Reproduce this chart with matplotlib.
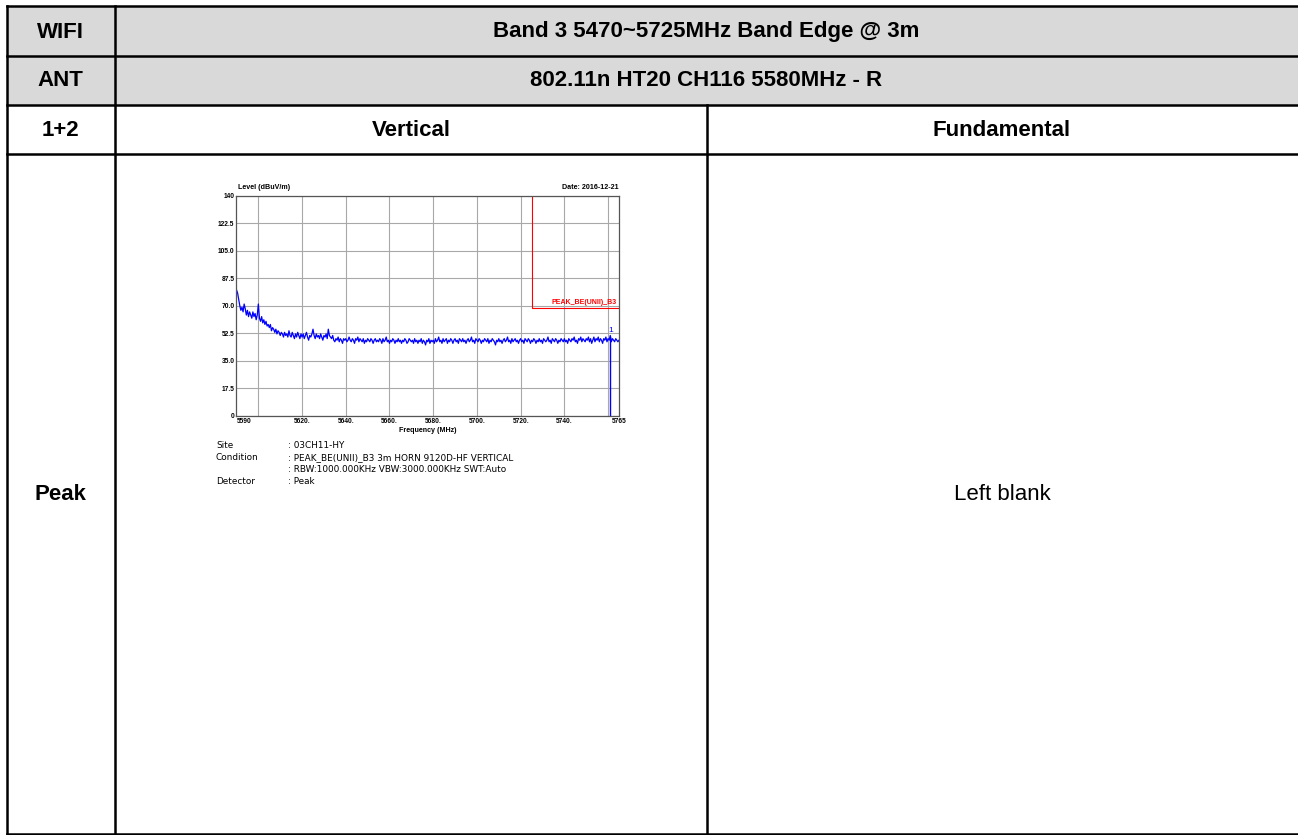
import matplotlib
matplotlib.use("Agg")
import matplotlib.pyplot as plt
import numpy as np

# table texts
row1_left = "WIFI"
row1_text = "Band 3 5470~5725MHz Band Edge @ 3m"
row2_left = "ANT"
row2_text = "802.11n HT20 CH116 5580MHz - R"
row3 = ["1+2", "Vertical", "Fundamental"]
row4 = ["Peak", "Left blank"]

# spectrum trace, one point every 0.5 MHz from 5590 to 5765
level = [80, 78, 74, 70, 67, 69, 66, 71, 68, 64,
         67, 63, 66, 64, 62, 66, 63, 65, 61, 64,
         71, 62, 60, 63, 59, 61, 58, 60, 57, 58,
         56, 58, 54, 56, 55, 53, 55, 52, 54, 53,
         51, 53, 52, 50, 53, 51, 52, 50, 54, 51,
         50, 53, 51, 49, 52, 50, 53, 51, 49, 52,
         50, 52, 49, 51, 53, 50, 48, 51, 50, 52,
         55, 51, 49, 52, 50, 51, 49, 52, 50, 48,
         51, 50, 52, 49, 55, 51, 50, 49, 51, 48,
         47, 49, 48, 50, 47, 49, 48, 46, 49, 48,
         49, 47, 48, 50, 48, 47, 49, 48, 46, 49,
         48, 50, 47, 49, 48, 47, 49, 46, 48, 47,
         49, 48, 47, 49, 48, 46, 48, 49, 47, 48,
         47, 49, 48, 46, 49, 47, 48, 50, 47, 48,
         46, 48, 47, 49, 48, 46, 48, 47, 49, 47,
         48, 46, 48, 47, 49, 48, 46, 47, 49, 48,
         47, 48, 46, 49, 47, 48, 46, 48, 47, 49,
         46, 48, 47, 45, 48, 47, 49, 46, 48, 47,
         48, 46, 49, 47, 48, 50, 47, 48, 46, 49,
         47, 48, 49, 46, 48, 47, 49, 48, 46, 48,
         49, 47, 48, 46, 49, 48, 47, 49, 47, 48,
         46, 48, 49, 47, 48, 50, 47, 48, 46, 49,
         48, 47, 49, 48, 46, 48, 47, 49, 48, 47,
         49, 46, 48, 47, 49, 48, 47, 45, 48, 47,
         49, 47, 48, 46, 48, 49, 47, 48, 50, 47,
         48, 46, 49, 47, 48, 49, 47, 48, 46, 48,
         49, 47, 48, 46, 49, 48, 47, 49, 48, 46,
         48, 47, 49, 48, 46, 48, 47, 49, 47, 48,
         46, 49, 48, 47, 48, 50, 47, 48, 46, 49,
         48, 47, 49, 48, 46, 48, 47, 49, 48, 47,
         49, 47, 48, 46, 49, 48, 47, 49, 48, 50,
         47, 48, 46, 49, 48, 50, 47, 49, 48, 47,
         49, 48, 50, 47, 49, 46, 48, 50, 47, 49,
         48, 50, 47, 49, 48, 46, 49, 48, 50, 47,
         49, 48, 51, 47, 49, 48, 47, 49, 48, 47,
         48]
freq = 5590 + 0.5 * np.arange(len(level))

limit_freq = 5725
limit_level = 68.2
marker_freq = 5761
marker_level = 50

y_ticks = [0, 17.5, 35.0, 52.5, 70.0, 87.5, 105.0, 122.5, 140]
y_labels = ["0", "17.5", "35.0", "52.5", "70.0", "87.5", "105.0", "122.5", "140"]
x_grid = [5600, 5620, 5640, 5660, 5680, 5700, 5720, 5740, 5760]
x_ticks = [5590, 5620, 5640, 5660, 5680, 5700, 5720, 5740, 5765]
x_labels = ["5590", "5620.", "5640.", "5660.", "5680.", "5700.", "5720.", "5740.", "5765"]

info_keys = ["Site", "Condition", "", "Detector"]
info_vals = [": 03CH11-HY",
             ": PEAK_BE(UNII)_B3 3m HORN 9120D-HF VERTICAL",
             ": RBW:1000.000KHz VBW:3000.000KHz SWT:Auto",
             ": Peak"]

W, H = 1298, 835
fig = plt.figure(figsize=(W / 100, H / 100), dpi=100)

# background axes in pixel coordinates for the table
ax0 = fig.add_axes([0, 0, 1, 1])
ax0.set_xlim(0, W)
ax0.set_ylim(H, 0)
ax0.axis("off")

x_l, x_c1, x_c2, x_r = 6.5, 115, 707, 1300
rows = [6, 56, 104.5, 154, 834]
ax0.add_patch(plt.Rectangle((x_l, rows[0]), x_r - x_l, rows[2] - rows[0],
                            facecolor="#d9d9d9", edgecolor="none"))
lw = 1.8
for y in rows:
    ax0.plot([x_l, x_r], [y, y], color="black", lw=lw, solid_capstyle="projecting")
ax0.plot([x_l, x_l], [rows[0], rows[-1]], color="black", lw=lw)
ax0.plot([x_c1, x_c1], [rows[0], rows[-1]], color="black", lw=lw)
ax0.plot([x_c2, x_c2], [rows[2], rows[-1]], color="black", lw=lw)

bold = dict(fontfamily="Liberation Sans", fontweight="bold", fontsize=16,
            ha="center", va="center")
ax0.text(60, 32, row1_left, **bold)
ax0.text(706, 32, row1_text, **bold)
ax0.text(60, 81, row2_left, **bold)
ax0.text(706, 81, row2_text, **bold)
ax0.text(60, 130, row3[0], **bold)
ax0.text(411, 130, row3[1], **bold)
ax0.text(1002, 130, row3[2], **bold)
ax0.text(60, 495, row4[0], **bold)
ax0.text(1002, 495, row4[1], fontfamily="Liberation Sans", fontsize=16,
         ha="center", va="center")

# spectrum plot
left, right, top, bottom = 236.5, 619, 195.5, 415.7
ax = fig.add_axes([left / W, 1 - bottom / H, (right - left) / W, (bottom - top) / H])
ax.set_xlim(5590, 5765)
ax.set_ylim(0, 140)
for xg in x_grid:
    ax.axvline(xg, color="#a8a8a8", lw=0.8, zorder=0)
ax.grid(axis="y", color="#a8a8a8", lw=0.8)
ax.set_axisbelow(True)
ax.plot(freq, level, color="#0000ff", lw=0.9)
ax.plot([limit_freq, limit_freq, 5765], [140, limit_level, limit_level], color="red", lw=0.8)
ax.text(5764, limit_level + 1.5, "PEAK_BE(UNII)_B3", color="red", fontsize=5,
        fontweight="bold", fontfamily="Liberation Sans", ha="right", va="bottom")
ax.plot([marker_freq, marker_freq], [0, marker_level], color="#0000ff", lw=1.0)
ax.text(marker_freq, marker_level + 2, "1", color="#0000ff", fontsize=6,
        fontfamily="Liberation Sans", ha="center", va="bottom")

ax.set_yticks(y_ticks)
ax.set_yticklabels(y_labels)
ax.set_xticks(x_ticks)
ax.set_xticklabels(x_labels)
ax.tick_params(axis="both", which="both", length=0, pad=1.5, labelsize=4.8)
for lab in ax.get_xticklabels() + ax.get_yticklabels():
    lab.set_fontweight("bold")
    lab.set_fontfamily("Liberation Sans")
ax.get_xticklabels()[0].set_ha("left")
for side in ["left", "bottom", "top", "right"]:
    ax.spines[side].set_color("#555555")
    ax.spines[side].set_linewidth(0.9)

small = dict(fontfamily="Liberation Sans", fontweight="bold", fontsize=5.1)
ax0.text(238, 191, "Level (dBuV/m)", ha="left", va="bottom", **small)
ax0.text(619, 191, "Date: 2016-12-21", ha="right", va="bottom", **small)
ax0.text(428, 430, "Frequency (MHz)", ha="center", va="center", **small)

for i, (k, v) in enumerate(zip(info_keys, info_vals)):
    y = 446 + [0, 12, 23, 36][i]
    ax0.text(216, y, k, fontsize=6.4, fontfamily="DejaVu Sans", ha="left", va="center")
    ax0.text(288, y, v, fontsize=6.4, fontfamily="DejaVu Sans", ha="left", va="center")

fig.savefig("out.png", dpi=100)
